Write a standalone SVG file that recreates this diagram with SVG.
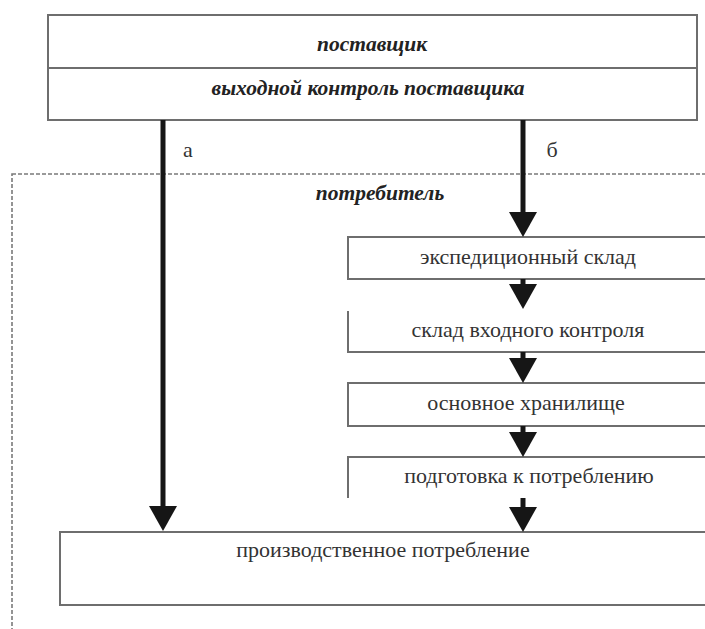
<svg xmlns="http://www.w3.org/2000/svg" width="705" height="629" viewBox="0 0 705 629">
  <style>
    .box { fill: #ffffff; stroke: #6e6e6e; stroke-width: 2; }
    .edge { fill: none; stroke: #6e6e6e; stroke-width: 2; }
    .zone { fill: none; stroke: #7a7a7a; stroke-width: 1.6; stroke-dasharray: 4 2; }
    .arrow { stroke: #161616; stroke-width: 5; fill: none; }
    .bi { font-family: "Liberation Serif", "Times New Roman", serif; font-weight: bold; font-style: italic; font-size: 21.5px; fill: #222; text-anchor: middle; }
    .rg { font-family: "Liberation Serif", "Times New Roman", serif; font-size: 22px; fill: #333; text-anchor: middle; }
  </style>
  <defs>
    <marker id="head" markerUnits="userSpaceOnUse" markerWidth="26" markerHeight="28" refX="0" refY="14" orient="auto" overflow="visible">
      <path d="M0,0 L25,14 L0,28 Z" fill="#161616"/>
    </marker>
  </defs>
  <rect width="705" height="629" fill="#ffffff"/>

  <g id="consumer-zone">
    <rect class="zone" x="12" y="174" width="740" height="500"/>
    <text class="bi" x="380" y="200">потребитель</text>
  </g>

  <g id="supplier">
    <rect class="box" x="48" y="15" width="649" height="105"/>
    <line class="edge" x1="48" y1="68" x2="697" y2="68"/>
    <text class="bi" x="372" y="51">поставщик</text>
    <text class="bi" x="368" y="95">выходной контроль поставщика</text>
  </g>

  <g id="expedition">
    <rect class="box" x="348" y="237" width="400" height="42"/>
    <text class="rg" x="528" y="264">экспедиционный склад</text>
  </g>

  <g id="incoming-control">
    <path class="edge" d="M348,311 L348,352 L720,352"/>
    <text class="rg" x="528" y="337">склад входного контроля</text>
  </g>

  <g id="main-storage">
    <rect class="box" x="348" y="383" width="400" height="43"/>
    <text class="rg" x="526" y="410">основное хранилище</text>
  </g>

  <g id="preparation">
    <path class="edge" d="M720,457 L348,457 L348,498"/>
    <text class="rg" x="529" y="483">подготовка к потреблению</text>
  </g>

  <g id="production">
    <rect class="box" x="60" y="532" width="700" height="73"/>
    <text class="rg" x="383" y="557">производственное потребление</text>
  </g>

  <g id="connectors">
    <line class="arrow" x1="163" y1="120" x2="163" y2="506" marker-end="url(#head)"/>
    <line class="arrow" x1="523" y1="120" x2="523" y2="212" marker-end="url(#head)"/>
    <line class="arrow" x1="523" y1="279" x2="523" y2="284" marker-end="url(#head)"/>
    <line class="arrow" x1="523" y1="352" x2="523" y2="358" marker-end="url(#head)"/>
    <line class="arrow" x1="523" y1="426" x2="523" y2="432" marker-end="url(#head)"/>
    <line class="arrow" x1="523" y1="498" x2="523" y2="507" marker-end="url(#head)"/>
    <text class="rg" x="188" y="157">а</text>
    <text class="rg" x="552" y="157">б</text>
  </g>
</svg>
